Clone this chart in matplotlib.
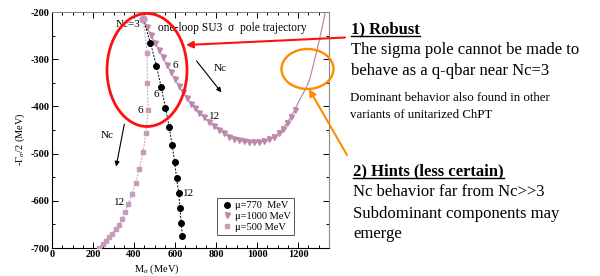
import matplotlib
matplotlib.use("Agg")
import matplotlib.pyplot as plt
from matplotlib.patches import Ellipse, FancyArrowPatch
from matplotlib.lines import Line2D
from matplotlib.ticker import MultipleLocator

plt.rcParams['font.family'] = ['Liberation Serif', 'DejaVu Serif']
plt.rcParams['axes.unicode_minus'] = False
plt.rcParams['mathtext.fontset'] = 'custom'
plt.rcParams['mathtext.rm'] = 'Liberation Serif'
plt.rcParams['mathtext.it'] = 'Liberation Serif:italic'

# ---- data ----
start_M = [444]
start_G = [-215]

mu770_M = [444, 480, 509, 532, 553, 571, 585, 598, 607, 618, 624, 629, 636]
mu770_G = [-215, -266, -314, -359, -403, -443, -481, -518, -552, -584, -616, -646, -675]

mu500_M = [444, 464, 464, 469, 457, 444, 425, 407, 389, 372, 357, 341, 326, 310, 293, 277, 263, 247, 231]
mu500_G = [-215, -287, -351, -408, -457, -497, -533, -563, -586, -606, -624, -639, -651, -660, -670, -677, -685, -692, -699]

mu1000_M = [444, 462, 482, 501, 521, 540, 560, 579, 599, 618, 637, 657, 676, 696, 718, 740,
            764, 788, 813, 837, 861, 886, 910, 934, 959, 983, 1007, 1032, 1056, 1080, 1105,
            1124, 1144, 1163, 1183]
mu1000_G = [-215, -232, -249, -265, -280, -296, -312, -328, -343, -357, -370, -382, -394, -404, -414, -423,
            -433, -441, -450, -457, -464, -469, -472, -474, -476, -476, -475, -473, -470, -465, -457,
            -447, -436, -423, -408]
mu1000_tail_M = [1183, 1207, 1231, 1255, 1275, 1294, 1314, 1333]
mu1000_tail_G = [-408, -386, -367, -344, -310, -276, -238, -198]

legend_labels = ["\u03bc=770  MeV", "\u03bc=1000 MeV", "\u03bc=500 MeV"]

PINK = "#bb8aab"
PINK_L = "#c79bba"

W, H = 600, 276
fig = plt.figure(figsize=(W / 100, H / 100), dpi=100)
L, R, T, B = 52, 329, 12, 248
ax = fig.add_axes([L / W, 1 - B / H, (R - L) / W, (B - T) / H])
ax.set_xlim(0, 1350)
ax.set_ylim(-700, -200)

ax.plot(mu1000_tail_M, mu1000_tail_G, '-', color=PINK, lw=0.9, zorder=2)
ax.plot(mu1000_M, mu1000_G, '-', color=PINK, lw=0.9, marker='v', ms=3.6,
        mfc=PINK, mec=PINK, zorder=3)
ax.plot(mu500_M, mu500_G, '--', color=PINK_L, lw=0.7, dashes=(2, 1.5), marker='s', ms=3.3,
        mfc=PINK_L, mec=PINK_L, zorder=3)
ax.plot(mu770_M, mu770_G, '--', color='black', lw=0.7, dashes=(2, 1.5), marker='o', ms=4.0,
        mfc='black', mec='black', zorder=4)
ax.plot(start_M, start_G, 'o', ms=5, color=PINK_L, zorder=5)

ax.xaxis.set_major_locator(MultipleLocator(200))
ax.xaxis.set_minor_locator(MultipleLocator(50))
ax.yaxis.set_major_locator(MultipleLocator(100))
ax.yaxis.set_minor_locator(MultipleLocator(50))
ax.tick_params(which='both', direction='in', top=True, right=True, labelsize=7.5, width=0.7)
ax.tick_params(which='major', length=4)
ax.tick_params(which='minor', length=2)
for lab in ax.get_xticklabels() + ax.get_yticklabels():
    lab.set_fontweight('bold')
ax.tick_params(axis='both', pad=1.5)
for s in ax.spines.values():
    s.set_linewidth(0.8)
ax.spines['right'].set_color('#888888')
ax.spines['top'].set_color('#888888')

ax.set_xlabel(r"M$_\sigma$ (MeV)", fontsize=7.5, labelpad=0)
ax.xaxis.set_label_coords((157 - L) / (R - L), -0.06)
ax.set_ylabel(r"-$\Gamma_\sigma$/2 (MeV)", fontsize=7.5, labelpad=0)
ax.yaxis.set_label_coords(-(L - 27) / (R - L), 0.46)

# in-axes annotations
ax.text(432, -227, "Nc=3", fontsize=8, ha='right', va='center')
ax.text(516, -233, "one-loop SU3  \u03c3  pole trajectory", fontsize=8.3, ha='left', va='center')
ax.text(509, -374, "6", fontsize=8, ha='center', va='center')
ax.text(432, -408, "6", fontsize=8, ha='center', va='center')
ax.text(599, -314, "6", fontsize=8, ha='center', va='center')
ax.text(667, -584, "12", fontsize=8, ha='center', va='center')
ax.text(331, -604, "12", fontsize=8, ha='center', va='center')
ax.text(793, -422, "12", fontsize=8, ha='center', va='center')
ax.text(818, -320, "Nc", fontsize=8, ha='center', va='center')
ax.text(271, -461, "Nc", fontsize=8, ha='center', va='center')
ax.annotate("", xy=(834, -375), xytext=(696, -299),
            arrowprops=dict(arrowstyle='-|>', color='black', lw=0.8, mutation_scale=7))
ax.annotate("", xy=(310, -533), xytext=(355, -432),
            arrowprops=dict(arrowstyle='-|>', color='black', lw=0.8, mutation_scale=7))

handles = [Line2D([], [], ls='none', marker='o', ms=4.0, color='black'),
           Line2D([], [], ls='none', marker='v', ms=3.6, color=PINK),
           Line2D([], [], ls='none', marker='s', ms=3.3, color=PINK_L)]
leg = ax.legend(handles, legend_labels, loc='lower right', bbox_to_anchor=((294 - L) / (R - L), (B - 235) / (B - T)),
                fontsize=7.5, frameon=True, fancybox=False, edgecolor='#555555', framealpha=1,
                borderpad=0.3, labelspacing=0.15, handletextpad=0.2, handlelength=1.2, borderaxespad=0)
leg.get_frame().set_linewidth(0.7)


def fx(px):
    return px / W


def fy(py):
    return 1 - py / H


# ellipses
fig.patches.append(Ellipse((fx(147), fy(70)), 80 / W, 113 / H, transform=fig.transFigure,
                           fill=False, edgecolor='#ff1010', lw=2.0, zorder=10))
fig.patches.append(Ellipse((fx(307.5), fy(69)), 52 / W, 40 / H, transform=fig.transFigure,
                           fill=False, edgecolor='#ff8c00', lw=1.7, zorder=10))
fig.patches.append(FancyArrowPatch((fx(345), fy(37.5)), (fx(186), fy(45)), transform=fig.transFigure,
                                   arrowstyle='-|>', mutation_scale=10, color='#ff1010', lw=1.5,
                                   shrinkA=0, shrinkB=0, zorder=10))
fig.patches.append(FancyArrowPatch((fx(347), fy(155)), (fx(309), fy(89)), transform=fig.transFigure,
                                   arrowstyle='-|>', mutation_scale=10, color='#ff8c00', lw=1.5,
                                   shrinkA=0, shrinkB=0, zorder=10))

# right-hand text
t1 = fig.text(fx(351), fy(29), "1) Robust", fontsize=12, fontweight='bold', ha='left', va='center')
fig.text(fx(351), fy(50), "The sigma pole cannot be made to", fontsize=12, ha='left', va='center')
fig.text(fx(351), fy(71.5), "behave as a q-qbar near Nc=3", fontsize=12, ha='left', va='center')
fig.text(fx(350), fy(98.5), "Dominant behavior also found in other", fontsize=9.3, ha='left', va='center')
fig.text(fx(350), fy(115), "variants of unitarized ChPT", fontsize=9.3, ha='left', va='center')
t2 = fig.text(fx(353), fy(171), "2) Hints (less certain)", fontsize=12, fontweight='bold', ha='left', va='center')
fig.text(fx(353), fy(192.5), "Nc behavior far from Nc>>3", fontsize=12, ha='left', va='center')
fig.text(fx(353), fy(213.5), "Subdominant components may", fontsize=12, ha='left', va='center')
fig.text(fx(353), fy(234), "emerge", fontsize=12, ha='left', va='center')

fig.canvas.draw()
r = fig.canvas.get_renderer()
for t in (t1, t2):
    bb = t.get_window_extent(renderer=r)
    yline = bb.y0 + 1.5
    fig.add_artist(Line2D([bb.x0 / fig.bbox.width, bb.x1 / fig.bbox.width],
                          [yline / fig.bbox.height] * 2, transform=fig.transFigure,
                          color='black', lw=1.0))

fig.savefig("out.png", dpi=100)
